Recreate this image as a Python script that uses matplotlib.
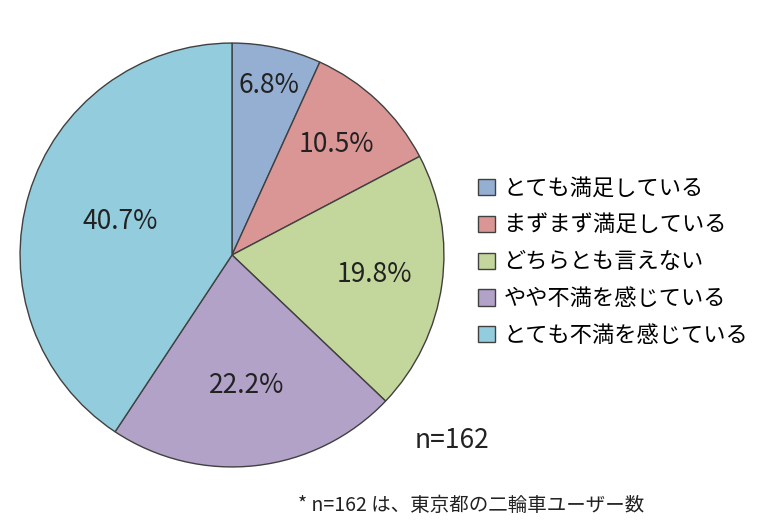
import matplotlib
matplotlib.use("Agg")
import matplotlib.pyplot as plt
import numpy as np
from matplotlib.patches import Patch

plt.rcParams['font.family'] = ['Noto Sans CJK JP', 'DejaVu Sans']

categories = ["とても満足している", "まずまず満足している", "どちらとも言えない", "やや不満を感じている", "とても不満を感じている"]
values = [6.8, 10.5, 19.8, 22.2, 40.7]
colors = ["#95AFD3", "#D99694", "#C3D69B", "#B2A2C7", "#93CDDD"]
label_r = [0.82, 0.72, 0.68, 0.62, 0.55]

W, H = 768, 524
fig = plt.figure(figsize=(W/100, H/100), dpi=100)
cx, cy, r = 232, 255, 213
ax = fig.add_axes([(cx-r)/W, (H-cy-r)/H, 2*r/W, 2*r/H])
wedges, _ = ax.pie(values, colors=colors, startangle=90, counterclock=False,
                   wedgeprops=dict(edgecolor="#404040", linewidth=1))
ax.set_aspect('equal')
ax.set_xlim(-1.005, 1.005)
ax.set_ylim(-1.005, 1.005)
for w, v, lr in zip(wedges, values, label_r):
    ang = np.deg2rad((w.theta1 + w.theta2) / 2)
    ax.text(lr*np.cos(ang), lr*np.sin(ang), f"{v}%", ha='center', va='center', fontsize=19, color='#222222')

handles = [Patch(facecolor=c, edgecolor="#404040") for c in colors]
fig.legend(handles, categories, loc='center left', bbox_to_anchor=(458/W, 1-262/H),
           frameon=False, fontsize=16, handlelength=0.75, handleheight=0.75,
           handletextpad=0.4, labelspacing=0.62)
fig.text(415/W, 1-440/H, "n=162", fontsize=19, va='center', color='#222222')
fig.text(298/W, 1-505/H, "* n=162 は、東京都の二輪車ユーザー数", fontsize=14, va='center', color='#222222')
fig.savefig("out.png", dpi=100)
